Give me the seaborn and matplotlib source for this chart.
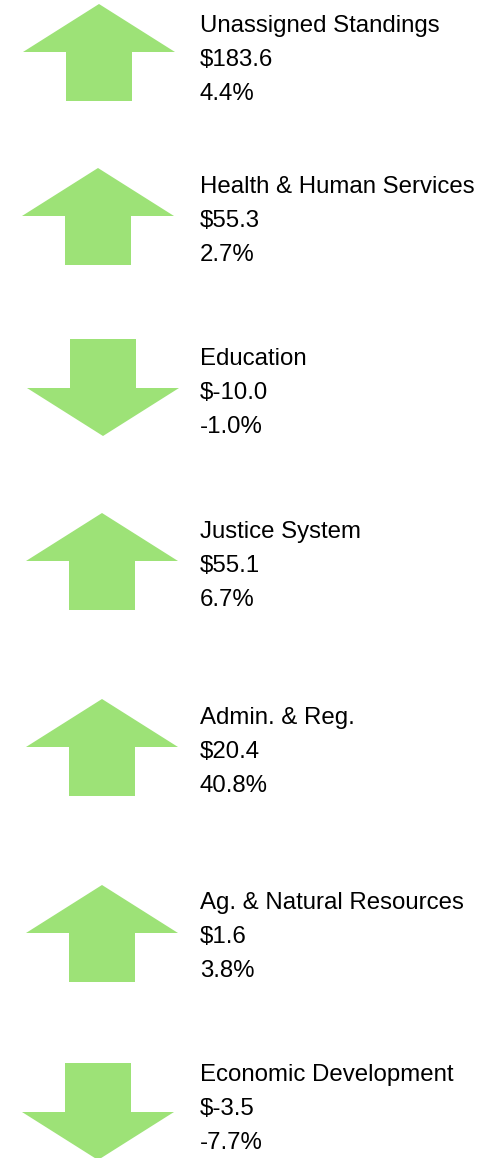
import matplotlib
matplotlib.use("Agg")
import matplotlib.pyplot as plt
from matplotlib.patches import Polygon
import seaborn as sns

# data
departments = ["Unassigned Standings", "Health & Human Services", "Education",
               "Justice System", "Admin. & Reg.", "Ag. & Natural Resources",
               "Economic Development"]
change_dollars = [183.6, 55.3, -10.0, 55.1, 20.4, 1.6, -3.5]
change_pct = [4.4, 2.7, -1.0, 6.7, 40.8, 3.8, -7.7]

# layout (pixels): text row centre, arrow centre x, arrow top
row_y = [26, 187, 359, 532, 718, 903, 1075]
arrow_x = [99, 98, 103, 102, 102, 102, 98]
arrow_top = [4, 168, 339, 513, 699, 885, 1063]

sns.set_theme(style="white")
plt.rcParams["font.family"] = ["Liberation Sans", "DejaVu Sans"]

W, H = 496, 1158
fig = plt.figure(figsize=(W / 100, H / 100), dpi=100)
ax = fig.add_axes([0, 0, 1, 1])
ax.set_xlim(0, W)
ax.set_ylim(H, 0)
ax.axis("off")

green = "#9de277"
head_w, stem_w, head_h, stem_h = 76, 33, 48, 49

for name, d, p, ty, cx, top in zip(departments, change_dollars, change_pct,
                                   row_y, arrow_x, arrow_top):
    if d >= 0:
        pts = [(cx, top), (cx + head_w, top + head_h), (cx + stem_w, top + head_h),
               (cx + stem_w, top + head_h + stem_h), (cx - stem_w, top + head_h + stem_h),
               (cx - stem_w, top + head_h), (cx - head_w, top + head_h)]
    else:
        pts = [(cx - stem_w, top), (cx + stem_w, top), (cx + stem_w, top + stem_h),
               (cx + head_w, top + stem_h), (cx, top + stem_h + head_h),
               (cx - head_w, top + stem_h), (cx - stem_w, top + stem_h)]
    ax.add_patch(Polygon(pts, closed=True, facecolor=green, edgecolor="none"))
    for k, s in enumerate([name, "$%.1f" % d, "%.1f%%" % p]):
        ax.text(200, ty + 34 * k, s, fontsize=17.3, color="black",
                ha="left", va="center")

fig.savefig("out.png", dpi=100, facecolor="white")
